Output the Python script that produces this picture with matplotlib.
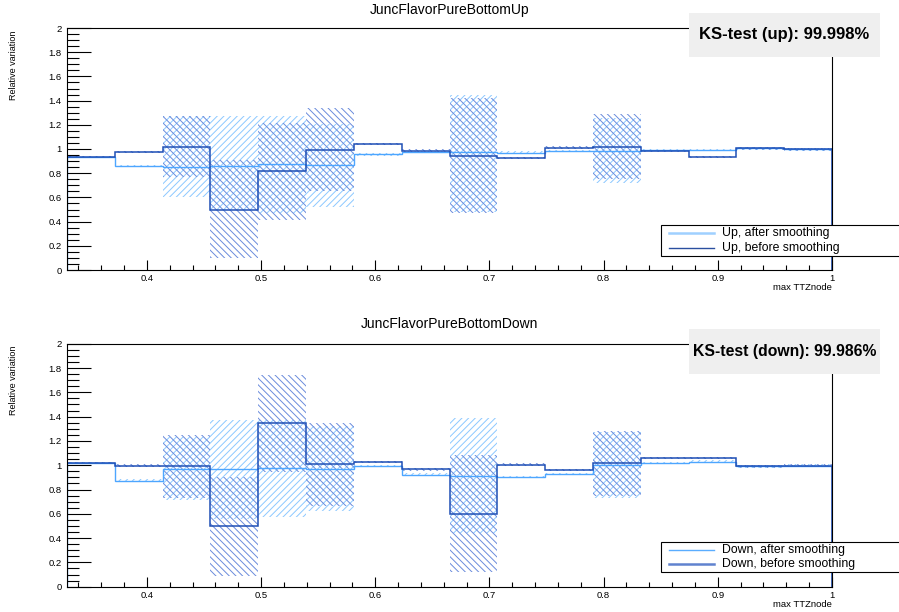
# Smoothing check: relative variation before / after smoothing
import numpy as np
import matplotlib.pyplot as plt
from matplotlib.patches import Rectangle
from matplotlib.lines import Line2D
from matplotlib.ticker import MultipleLocator

plt.rcParams['font.family'] = ['Liberation Sans', 'DejaVu Sans']
plt.rcParams['hatch.linewidth'] = 0.7

# binning of max TTZnode
x_min, x_max, n_bins = 0.33, 1.0, 16

# Up variation
up_before = [0.935, 0.973, 1.017, 0.50, 0.815, 0.99, 1.042, 0.986, 0.942, 0.928, 1.011, 1.017, 0.983, 0.934, 1.005, 0.997]
up_after = [0.935, 0.86, 0.854, 0.858, 0.874, 0.866, 0.956, 0.975, 0.978, 0.97, 0.985, 0.985, 0.99, 0.99, 1.005, 0.997]
up_before_lo = [0.925, 0.963, 0.77, 0.10, 0.415, 0.65, 1.032, 0.976, 0.47, 0.918, 1.001, 0.75, 0.973, 0.924, 0.995, 0.987]
up_before_hi = [0.945, 0.983, 1.27, 0.91, 1.215, 1.34, 1.052, 0.996, 1.42, 0.938, 1.021, 1.29, 0.993, 0.944, 1.015, 1.007]
up_after_lo = [0.925, 0.85, 0.60, 0.50, 0.47, 0.52, 0.946, 0.965, 0.48, 0.96, 0.975, 0.72, 0.98, 0.98, 0.995, 0.987]
up_after_hi = [0.945, 0.87, 1.27, 1.27, 1.27, 1.21, 0.966, 0.985, 1.45, 0.98, 0.995, 1.26, 1.0, 1.0, 1.015, 1.007]

# Down variation
down_before = [1.016, 0.996, 0.991, 0.497, 1.345, 1.007, 1.024, 0.966, 0.598, 1.004, 0.96, 1.016, 1.057, 1.057, 0.991, 0.996]
down_after = [1.016, 0.873, 0.966, 0.966, 0.974, 0.972, 0.993, 0.922, 0.914, 0.905, 0.928, 1.0, 1.02, 1.029, 0.991, 0.996]
down_before_lo = [1.006, 0.986, 0.73, 0.09, 0.945, 0.667, 1.014, 0.956, 0.12, 0.994, 0.95, 0.75, 1.047, 1.047, 0.981, 0.986]
down_before_hi = [1.026, 1.006, 1.25, 0.905, 1.745, 1.347, 1.034, 0.976, 1.08, 1.014, 0.97, 1.285, 1.067, 1.067, 1.001, 1.006]
down_after_lo = [1.006, 0.863, 0.71, 0.56, 0.575, 0.62, 0.983, 0.912, 0.445, 0.895, 0.918, 0.73, 1.01, 1.019, 0.981, 0.986]
down_after_hi = [1.026, 0.883, 1.23, 1.37, 1.374, 1.32, 1.003, 0.932, 1.385, 0.915, 0.938, 1.27, 1.03, 1.039, 1.001, 1.006]

titles = ['JuncFlavorPureBottomUp', 'JuncFlavorPureBottomDown']
ks_texts = ['KS-test (up): 99.998%', 'KS-test (down): 99.986%']
legend_after = ['Up, after smoothing', 'Down, after smoothing']
legend_before = ['Up, before smoothing', 'Down, before smoothing']

edges = np.linspace(x_min, x_max, n_bins + 1)
widths = np.diff(edges)

c_after = '#4da6ff'
c_before = '#1f4fb5'
c_after_hatch = '#8cc8ff'
c_before_hatch = '#6a8bdc'

W, H = 899, 612
fig = plt.figure(figsize=(W / 100, H / 100), dpi=100)


def fx(px):
    return px / W


def fy(py):
    return 1 - py / H


panels = [
    dict(top=28, bottom=270, data=(up_before, up_after, up_before_lo, up_before_hi, up_after_lo, up_after_hi),
         title_y=10, box=(689, 12.7, 880, 57.3), leg=(225, 255.7), legc=('#9fd0ff', '#2a4f9f'), legw=(1.8, 1.0)),
    dict(top=343.7, bottom=586.7, data=(down_before, down_after, down_before_lo, down_before_hi, down_after_lo, down_after_hi),
         title_y=324, box=(689, 329, 880, 374), leg=(541.7, 572), legc=('#5aadff', '#6082cf'), legw=(1.0, 1.8)),
]

for i, p in enumerate(panels):
    before, after, b_lo, b_hi, a_lo, a_hi = [np.array(v) for v in p['data']]
    ax = fig.add_axes([fx(67), fy(p['bottom']), fx(832 - 67), (p['bottom'] - p['top']) / H])

    # error bands
    ax.bar(edges[:-1], a_hi - a_lo, width=widths, bottom=a_lo, align='edge', color='none',
           edgecolor=c_after_hatch, hatch='/////', linewidth=0)
    ax.bar(edges[:-1], b_hi - b_lo, width=widths, bottom=b_lo, align='edge', color='none',
           edgecolor=c_before_hatch, hatch='\\\\\\\\\\', linewidth=0)

    # step histograms
    ax.stairs(after, edges, color=c_after, linewidth=1.0)
    ax.stairs(before, edges, color=c_before, linewidth=1.1)

    ax.set_xlim(x_min, x_max)
    ax.set_ylim(0, 2)
    ax.xaxis.set_major_locator(MultipleLocator(0.1))
    ax.xaxis.set_minor_locator(MultipleLocator(0.02))
    ax.yaxis.set_major_locator(MultipleLocator(0.2))
    ax.yaxis.set_minor_locator(MultipleLocator(0.05))
    ax.tick_params(axis='both', which='both', direction='in', top=False, right=False,
                   labelsize=6.8, width=0.8, colors='black')
    ax.tick_params(axis='x', which='major', length=7, pad=3)
    ax.tick_params(axis='x', which='minor', length=3.5)
    ax.tick_params(axis='y', which='major', length=17, pad=4)
    ax.tick_params(axis='y', which='minor', length=8.5)
    ax.xaxis.set_major_formatter(lambda v, pos: f'{v:g}')
    ax.yaxis.set_major_formatter(lambda v, pos: f'{v:g}')
    for s in ax.spines.values():
        s.set_linewidth(0.8)

    fig.text(fx(14), fy(p['top'] + 37), 'Relative variation', rotation=90, ha='center', va='center', fontsize=6.5)
    fig.text(fx(832), fy(p['bottom'] + 18), 'max TTZnode', ha='right', va='center', fontsize=6.8)
    fig.text(0.5, fy(p['title_y']), titles[i], ha='center', va='center', fontsize=10)

    # KS-test box
    x0, y0, x1, y1 = p['box']
    fig.add_artist(Rectangle((fx(x0), fy(y1)), fx(x1 - x0), (y1 - y0) / H, transform=fig.transFigure,
                             facecolor='#efefef', edgecolor='none', zorder=5))
    fig.text(fx((x0 + x1) / 2), fy((y0 + y1) / 2), ks_texts[i], ha='center', va='center',
             fontsize=[12, 11.3][i], fontweight='bold', zorder=6)

    # legend
    ly0, ly1 = p['leg']
    fig.add_artist(Rectangle((fx(660.7), fy(ly1)), fx(260), (ly1 - ly0) / H, transform=fig.transFigure,
                             facecolor='white', edgecolor='black', linewidth=0.8, zorder=5))
    rows = [ly0 + (ly1 - ly0) * 0.27, ly0 + (ly1 - ly0) * 0.75]
    labels = [legend_after[i], legend_before[i]]
    for r, lab, c, lw in zip(rows, labels, p['legc'], p['legw']):
        fig.add_artist(Line2D([fx(669), fx(714)], [fy(r), fy(r)], transform=fig.transFigure,
                              color=c, linewidth=lw, zorder=6))
        fig.text(fx(722), fy(r), lab, ha='left', va='center', fontsize=8.8, zorder=6)

fig.savefig('out.png', dpi=100)
